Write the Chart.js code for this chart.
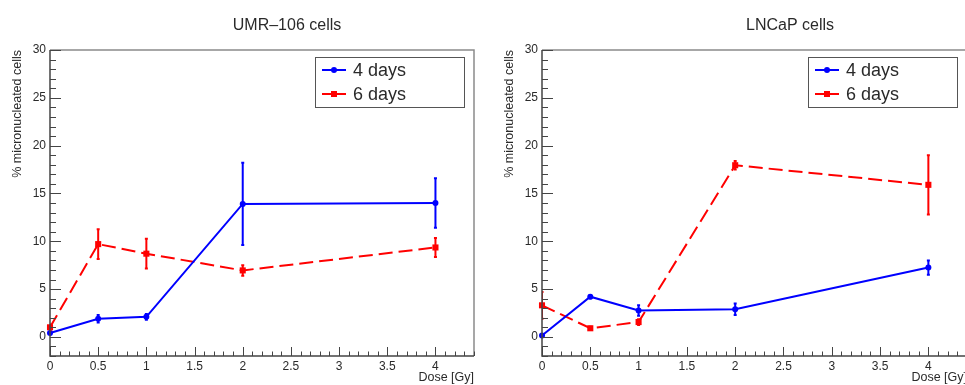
<!DOCTYPE html>
<html>
<head>
<meta charset="utf-8">
<script src="https://cdn.jsdelivr.net/npm/chart.js@4"></script>
<style>
  html, body { margin:0; padding:0; background:#fff; overflow:hidden; width:965px; height:385px; }
  canvas { position:absolute; top:0; }
  #umrChart { left:0; }
  #lncapChart { left:480px; }
</style>
</head>
<body>
<canvas id="umrChart" width="480" height="385"></canvas>
<canvas id="lncapChart" width="500" height="385"></canvas>
<script>
// doses (Gy)
const DOSE = [0, 0.5, 1, 2, 4];

// UMR-106 cells, % micronucleated cells
const UMR_4D     = [0.4, 1.9, 2.1, 13.9, 14.0];
const UMR_4D_ERR = [0.15, 0.4, 0.3, 4.3, 2.6];
const UMR_6D     = [1.0, 9.7, 8.7, 6.95, 9.35];
const UMR_6D_ERR = [0.3, 1.55, 1.55, 0.55, 1.0];

// LNCaP cells
const LNCAP_4D     = [0.15, 4.2, 2.75, 2.9, 7.25];
const LNCAP_4D_ERR = [0.1, 0.15, 0.55, 0.6, 0.75];
const LNCAP_6D     = [3.3, 0.9, 1.55, 17.95, 15.9];
const LNCAP_6D_ERR = [1.4, 0.15, 0.3, 0.45, 3.1];

const SERIES_LABELS = ['4 days', '6 days'];
const Y_TICKS = [0, 5, 10, 15, 20, 25, 30];
const X_TICKS = [0, 0.5, 1, 1.5, 2, 2.5, 3, 3.5, 4];

const FONT = '"Liberation Sans", Arial, Helvetica, sans-serif';
const TEXT = '#2a2a2a';
const BLUE = '#0000ff';
const RED = '#ff0000';

function pts(ys) { return DOSE.map((x, i) => ({x, y: ys[i]})); }

// ROOT-like frame, inward ticks, error bars, legend and titles
function rootPlugin(title, titleX) {
  return {
    id: 'rootFrame',
    afterDatasetsDraw(chart) {
      const ctx = chart.ctx, a = chart.chartArea;
      const ys = chart.scales.y;
      ctx.save();
      ctx.beginPath();
      ctx.rect(a.left, a.top, a.right - a.left, a.bottom - a.top);
      ctx.clip();
      chart.data.datasets.forEach((ds, di) => {
        const meta = chart.getDatasetMeta(di);
        ctx.strokeStyle = ds.borderColor;
        ctx.lineWidth = 2;
        meta.data.forEach((p, i) => {
          const e = ds.errors[i];
          const y = ds.data[i].y;
          const y1 = ys.getPixelForValue(y + e), y2 = ys.getPixelForValue(y - e);
          ctx.beginPath();
          ctx.moveTo(p.x, y1); ctx.lineTo(p.x, y2);
          ctx.moveTo(p.x - 1.5, y1); ctx.lineTo(p.x + 1.5, y1);
          ctx.moveTo(p.x - 1.5, y2); ctx.lineTo(p.x + 1.5, y2);
          ctx.stroke();
        });
      });
      ctx.restore();
    },
    afterDraw(chart) {
      const ctx = chart.ctx, a = chart.chartArea;
      const xs = chart.scales.x, ys = chart.scales.y;
      ctx.save();
      // frame
      ctx.lineWidth = 1.5;
      ctx.strokeStyle = '#8a8a8a';
      ctx.beginPath();
      ctx.moveTo(a.left, a.top); ctx.lineTo(a.right, a.top); ctx.lineTo(a.right, a.bottom);
      ctx.stroke();
      ctx.strokeStyle = '#444';
      ctx.beginPath();
      ctx.moveTo(a.left, a.top); ctx.lineTo(a.left, a.bottom); ctx.lineTo(a.right, a.bottom);
      ctx.stroke();
      // inward ticks
      ctx.lineWidth = 1;
      ctx.beginPath();
      for (let v = ys.min; v <= ys.max + 1e-9; v += 1) {
        const py = Math.round(ys.getPixelForValue(v)) + 0.5;
        const len = (Math.round(v) % 5 === 0) ? 11 : 6;
        ctx.moveTo(a.left, py); ctx.lineTo(a.left + len, py);
      }
      for (let k = 0; k * 0.1 <= xs.max + 1e-9; k++) {
        const px = Math.round(xs.getPixelForValue(k * 0.1)) + 0.5;
        const len = (k % 5 === 0) ? 9 : 4.5;
        ctx.moveTo(px, a.bottom); ctx.lineTo(px, a.bottom - len);
      }
      ctx.stroke();

      // legend
      const w = 149, h = 50;
      const bx = a.right - 10 - w, by = a.top + 7;
      ctx.fillStyle = '#fff';
      ctx.fillRect(bx, by, w, h);
      ctx.strokeStyle = '#555';
      ctx.lineWidth = 1;
      ctx.strokeRect(bx + 0.5, by + 0.5, w, h);
      chart.data.datasets.forEach((ds, i) => {
        const ry = by + 13 + i * 24;
        ctx.strokeStyle = ds.borderColor;
        ctx.lineWidth = 2;
        ctx.beginPath();
        ctx.moveTo(bx + 7, ry); ctx.lineTo(bx + 31, ry);
        ctx.stroke();
        ctx.fillStyle = ds.borderColor;
        ctx.beginPath();
        if (ds.pointStyle === 'rect') ctx.rect(bx + 16, ry - 3, 6, 6);
        else ctx.arc(bx + 19, ry, 3, 0, Math.PI * 2);
        ctx.fill();
        ctx.fillStyle = TEXT;
        ctx.font = '18px ' + FONT;
        ctx.textAlign = 'left';
        ctx.textBaseline = 'middle';
        ctx.fillText(ds.label, bx + 38, ry + 1);
      });

      // titles
      ctx.fillStyle = TEXT;
      ctx.font = '16px ' + FONT;
      ctx.textAlign = 'center';
      ctx.textBaseline = 'middle';
      ctx.fillText(title, titleX, 26);

      ctx.font = '12.5px ' + FONT;
      ctx.textAlign = 'right';
      ctx.fillText('Dose [Gy]', a.right, 378);

      ctx.translate(a.left - 32, a.top);
      ctx.rotate(-Math.PI / 2);
      ctx.textAlign = 'right';
      ctx.fillText('% micronucleated cells', 0, 0);
      ctx.restore();
    }
  };
}

function makeChart(id, title, titleX, yWidth, padRight, y4, e4, y6, e6) {
  return new Chart(document.getElementById(id), {
    type: 'scatter',
    data: {
      datasets: [
        {label: SERIES_LABELS[0], data: pts(y4), errors: e4, showLine: true,
         borderColor: BLUE, backgroundColor: BLUE, borderWidth: 2,
         pointStyle: 'circle', pointRadius: 3, pointBorderWidth: 0, clip: false},
        {label: SERIES_LABELS[1], data: pts(y6), errors: e6, showLine: true,
         borderColor: RED, backgroundColor: RED, borderWidth: 2, borderDash: [14, 6],
         pointStyle: 'rect', pointRadius: 4.3, pointBorderWidth: 0, clip: false},
      ]
    },
    options: {
      responsive: false,
      animation: false,
      layout: {padding: {top: 50, left: 0, right: padRight, bottom: 0}},
      plugins: {legend: {display: false}, tooltip: {enabled: false}},
      scales: {
        x: {
          type: 'linear', min: 0, max: 4.4,
          grid: {display: false, drawTicks: false},
          border: {display: false},
          afterBuildTicks: s => { s.ticks = X_TICKS.map(v => ({value: v})); },
          afterFit: s => { s.height = 29; },
          ticks: {padding: 3, autoSkip: false, maxRotation: 0, color: TEXT,
                  font: {family: FONT, size: 12}, callback: v => String(v)}
        },
        y: {
          type: 'linear', min: -2, max: 30,
          grid: {display: false, drawTicks: false},
          border: {display: false},
          afterBuildTicks: s => { s.ticks = Y_TICKS.map(v => ({value: v})); },
          afterFit: s => { s.width = yWidth; },
          ticks: {padding: 4, autoSkip: false, color: TEXT,
                  font: {family: FONT, size: 12}, callback: v => String(v)}
        }
      }
    },
    plugins: [rootPlugin(title, titleX)]
  });
}

makeChart('umrChart', 'UMR\u2013106 cells', 287, 50, 6, UMR_4D, UMR_4D_ERR, UMR_6D, UMR_6D_ERR);
makeChart('lncapChart', 'LNCaP cells', 310, 62, 13, LNCAP_4D, LNCAP_4D_ERR, LNCAP_6D, LNCAP_6D_ERR);
</script>
</body>
</html>
